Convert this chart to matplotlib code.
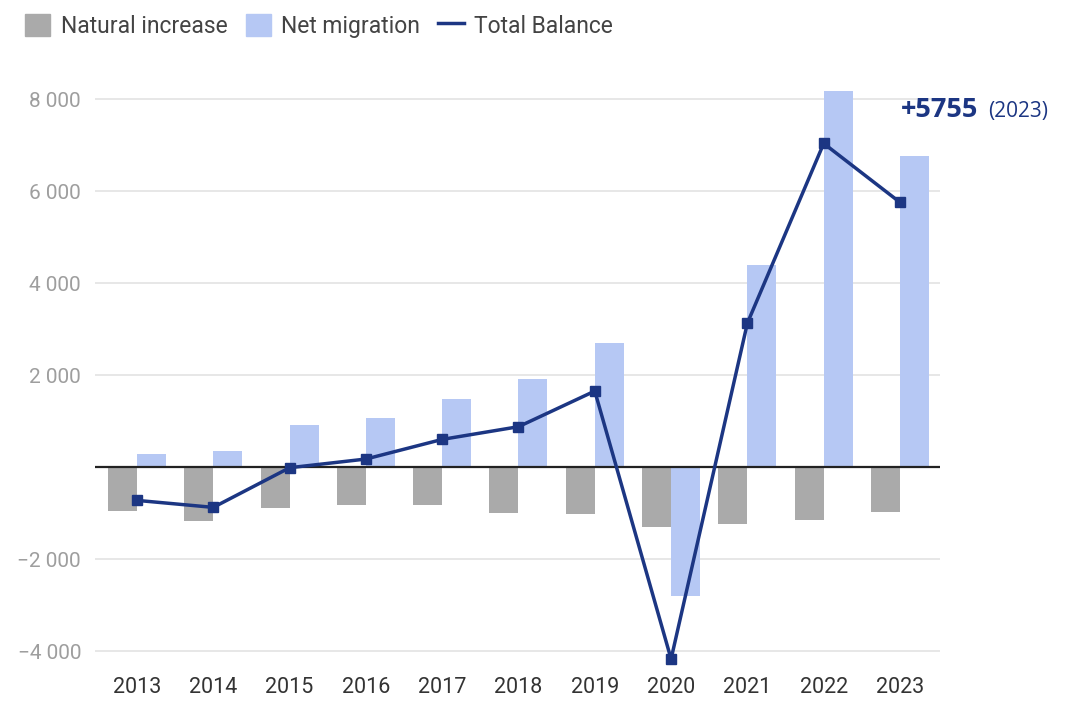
import matplotlib
matplotlib.use("Agg")
import matplotlib.pyplot as plt
from matplotlib.patches import Patch
from matplotlib.lines import Line2D
import numpy as np

years = ["2013", "2014", "2015", "2016", "2017", "2018", "2019", "2020", "2021", "2022", "2023"]
natural_increase = [-950, -1167, -898, -833, -833, -993, -1015, -1297, -1232, -1159, -978]
net_migration = [276, 355, 913, 1065, 1478, 1913, 2689, -2797, 4391, 8174, 6754]
total_balance = [-725, -877, -15, 174, 601, 877, 1652, -4174, 3130, 7036, 5755]
ytick_values = [-4000, -2000, 2000, 4000, 6000, 8000]
ytick_labels = ["\u22124 000", "\u22122 000", "2 000", "4 000", "6 000", "8 000"]

plt.rcParams['font.family'] = ['Roboto', 'DejaVu Sans']

fig = plt.figure(figsize=(10.76, 7.08), dpi=100)
ax = fig.add_axes([0.0883, 0.061, 0.785, 0.838])

x = np.arange(len(years))
bw = 0.38
gray = "#aaaaaa"
blue_l = "#b6c8f4"
navy = "#1c3683"

ax.bar(x - bw / 2, natural_increase, width=bw, color=gray, zorder=2)
ax.bar(x + bw / 2, net_migration, width=bw, color=blue_l, zorder=2)
ax.axhline(0, color="#222222", lw=1.6, zorder=3)
ax.plot(x, total_balance, color=navy, lw=2.5, marker="s", markersize=6.5, zorder=4)

ax.set_xlim(-0.55, 10.52)
ax.set_ylim(-4300, 8600)
ax.set_yticks(ytick_values)
ax.set_yticklabels(ytick_labels)
ax.set_xticks(x)
ax.set_xticklabels(years)
ax.yaxis.grid(True, color="#e3e3e3", lw=1.2, zorder=0)
ax.set_axisbelow(True)
for s in ax.spines.values():
    s.set_visible(False)
ax.tick_params(axis="y", length=0, pad=10, labelsize=15, labelcolor="#9e9e9e")
ax.tick_params(axis="x", length=0, pad=9, labelsize=15.5, labelcolor="#333333")

# annotation
fig.text(0.837, 1 - 117 / 708, "+5755", fontsize=19.5, fontweight="bold", color=navy,
         family=["Open Sans", "DejaVu Sans"], va="baseline", ha="left")
fig.text(0.918, 1 - 117 / 708, "(2023)", fontsize=15, color=navy,
         family=["Open Sans", "DejaVu Sans"], va="baseline", ha="left")

handles = [Patch(color=gray), Patch(color=blue_l), Line2D([0], [0], color=navy, lw=2.5)]
labels = ["Natural increase", "Net migration", "Total Balance"]
fig.legend(handles, labels, loc="upper left", bbox_to_anchor=(0.0105, 1.0), ncol=3,
           frameon=False, fontsize=16.5, handlelength=1.1, handleheight=1.1,
           handletextpad=0.45, columnspacing=0.8, labelcolor="#444444",
           borderaxespad=0.2)

fig.savefig("out.png", dpi=100)
